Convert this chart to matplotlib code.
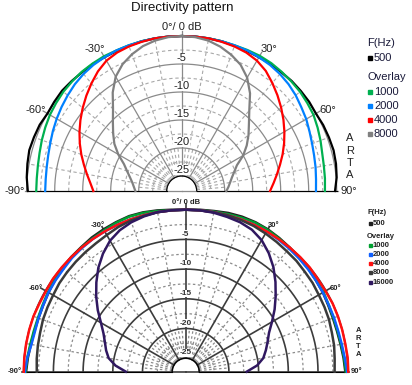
import matplotlib
matplotlib.use('Agg')
import numpy as np
import matplotlib.pyplot as plt
from matplotlib.patches import Rectangle

plt.rcParams['font.family'] = ['Liberation Sans', 'DejaVu Sans']

W, H = 412, 385

# angles of the measurement points, -90 .. 90 deg in 5 deg steps
angles = list(range(-90, 95, 5))

# upper chart (dB)
top_freqs = ['500', '1000', '2000', '4000', '8000']
top_500 = [-0.2, 0.1, 0.3, 0.5, 0.4, 0.3, 0.0, 0.1, 0.2, 0.1, 0.0, 0.0, -0.1, -0.1, -0.1, 0.0, 0.0, 0.0,
           0.0,
           0.0, 0.0, 0.0, -0.1, -0.1, -0.1, 0.0, 0.0, 0.1, 0.1, 0.1, 0.0, 0.2, 0.3, 0.4, 0.3, 0.1, -0.3]
top_1000 = [-1.7, -1.7, -1.6, -1.4, -1.1, -0.8, -0.5, -0.3, -0.1, 0.0, 0.1, 0.1, 0.1, 0.0, 0.0, 0.0, 0.0, 0.0,
            0.0,
            0.0, 0.0, 0.0, 0.0, 0.1, 0.2, 0.2, 0.1, 0.0, -0.1, -0.3, -0.5, -0.9, -1.3, -1.7, -1.9, -2.0, -2.1]
top_2000 = [-3.3, -3.3, -3.2, -3.0, -2.7, -2.3, -1.9, -1.5, -1.1, -0.7, -0.4, -0.2, -0.1, 0.0, 0.0, 0.0, 0.0, 0.0,
            0.0,
            0.0, 0.0, 0.0, 0.0, 0.0, -0.1, -0.2, -0.4, -0.7, -1.1, -1.6, -2.0, -2.5, -2.9, -3.2, -3.4, -3.6, -3.7]
top_4000 = [-11.9, -11.3, -10.5, -9.6, -8.6, -7.6, -6.6, -5.6, -4.6, -3.6, -2.6, -1.6, -0.8, -0.4, -0.2, -0.1, 0.0, 0.0,
            0.0,
            0.0, 0.0, -0.1, -0.2, -0.4, -0.8, -1.5, -2.5, -3.5, -4.5, -5.5, -6.5, -7.5, -8.5, -9.5, -10.4, -11.2, -11.9]
top_8000 = [-19.4, -19.1, -18.7, -18.1, -17.3, -16.3, -14.6, -13.0, -11.7, -10.3, -8.6, -6.2, -4.1, -2.7, -1.7, -0.9, -0.4, -0.1,
            0.0,
            -0.1, -0.4, -1.0, -1.8, -2.8, -4.3, -6.4, -8.9, -10.7, -12.1, -13.5, -15.0, -16.8, -17.7, -18.4, -18.9, -19.3, -19.7]
top_colors = ['#000000', '#00b050', '#0080ff', '#ff0000', '#808080']

# lower chart (dB)
bot_freqs = ['500', '1000', '2000', '4000', '8000', '16000']
bot_500 = [-0.4, -0.6, -0.8, -0.9, -0.9, -0.8, -0.6, -0.4, -0.2, 0.0, 0.1, 0.3, 0.4, 0.5, 0.6, 0.5, 0.3, 0.1,
           0.0,
           0.1, 0.2, 0.4, 0.5, 0.5, 0.4, 0.2, 0.0, -0.2, -0.3, -0.5, -0.6, -0.8, -0.9, -0.9, -0.8, -0.6, -0.4]
bot_1000 = [-0.3, -0.5, -0.7, -0.8, -0.8, -0.7, -0.5, -0.3, -0.2, -0.1, 0.0, 0.1, 0.2, 0.4, 0.5, 0.4, 0.2, 0.0,
            0.0,
            0.0, 0.1, 0.2, 0.3, 0.4, 0.3, 0.1, -0.1, -0.2, -0.3, -0.4, -0.5, -0.7, -0.8, -0.8, -0.7, -0.5, -0.3]
bot_2000 = [-0.2, -0.5, -0.9, -1.0, -0.9, -0.8, -0.6, -0.5, -0.4, -0.2, -0.1, 0.0, 0.0, 0.0, 0.0, 0.0, 0.0, 0.0,
            0.0,
            0.0, 0.0, 0.0, 0.0, 0.0, 0.0, -0.1, -0.2, -0.3, -0.4, -0.5, -0.6, -0.7, -0.7, -0.7, -0.6, -0.4, -0.1]
bot_4000 = [0.0, 0.0, 0.0, 0.0, 0.0, -0.1, -0.1, 0.0, 0.0, 0.0, 0.0, 0.0, 0.0, 0.0, 0.0, 0.0, 0.0, 0.0,
            0.0,
            0.0, 0.0, 0.0, 0.0, 0.0, 0.0, 0.0, 0.0, 0.0, 0.0, -0.1, -0.1, 0.0, 0.0, 0.0, 0.0, 0.1, 0.1]
bot_8000 = [-2.2, -2.1, -2.0, -1.9, -1.7, -1.6, -1.5, -1.3, -1.2, -1.1, -1.0, -0.9, -0.7, -0.4, -0.2, -0.1, 0.0, 0.0,
            0.0,
            0.0, 0.0, 0.0, -0.1, -0.2, -0.4, -0.6, -0.8, -0.9, -1.1, -1.2, -1.4, -1.5, -1.6, -1.8, -1.9, -2.1, -2.2]
bot_16000 = [-17.2, -15.4, -14.1, -13.4, -12.8, -12.0, -10.8, -9.2, -7.6, -6.0, -4.4, -3.0, -1.8, -1.0, -0.5, -0.2, 0.0, 0.0,
             0.0,
             0.0, -0.1, -0.3, -0.5, -0.9, -1.7, -2.9, -4.3, -5.9, -7.5, -9.0, -10.5, -11.8, -12.6, -13.3, -14.0, -15.2, -17.0]
bot_colors = ['#202020', '#00a030', '#1060ff', '#ff1010', '#3a3a3a', '#301860']

ring_labels = [-5, -10, -15, -20, -25]


def fx(x):
    return x / W


def fy(y):
    return 1 - y / H


def half_polar(cx, cy, R, hole, solid_c, dash_c, solid_lw, dash_lw, dash):
    # matplotlib pads the half-disc wedge to a square box, origin at 1/4 height
    ax = fig.add_axes([fx(cx - R), (H - cy - R / 2) / H, 2 * R / W, 2 * R / H], projection='polar')
    ax.set_theta_zero_location('N')
    ax.set_theta_direction(-1)
    ax.set_thetamin(-90)
    ax.set_thetamax(90)
    ax.set_rorigin(-25 - 25 * hole / (R - hole))
    ax.set_rlim(-25, 0)
    ax.grid(False)
    ax.set_xticks([])
    ax.set_yticks([])
    for s in ax.spines.values():
        s.set_visible(False)
    th = np.radians(np.linspace(-90, 90, 361))
    # dashed rings and spokes
    for v in np.arange(-22.5, 0, 5):
        ax.plot(th, np.full_like(th, v), color=dash_c, lw=dash_lw, dashes=dash, zorder=1)
    for a in range(-80, 90, 10):
        if a % 30:
            ax.plot([np.radians(a)] * 2, [-25, 0], color=dash_c, lw=dash_lw, dashes=dash, zorder=1)
    for a in range(-85, 90, 10):
        ax.plot([np.radians(a)] * 2, [-25, -20], color=dash_c, lw=dash_lw, dashes=dash, zorder=1)
    # solid rings and spokes
    for v in range(-25, 1, 5):
        ax.plot(th, np.full_like(th, v), color=solid_c, lw=solid_lw, zorder=1, clip_on=False)
    for a in (-60, -30, 0, 30, 60):
        ax.plot([np.radians(a)] * 2, [-25, 0.9], color=solid_c, lw=solid_lw, zorder=1, clip_on=False)
    for a in (-90, 90):
        ax.plot([np.radians(a)] * 2, [ax.get_rorigin(), 0.3], color=solid_c, lw=solid_lw, zorder=1, clip_on=False)
    return ax


fig = plt.figure(figsize=(W / 100, H / 100), dpi=100)

# ---------------- upper chart ----------------
ax1 = half_polar(181.7, 191, 155, 15, '#8a8a8a', '#a8a8a8', 0.9, 0.8, (3, 2.5))
th = np.radians(angles)
for vals, c in zip([top_500, top_1000, top_2000, top_4000, top_8000], top_colors):
    ax1.plot(th, vals, color=c, lw=1.6, zorder=3, clip_on=False)
for v in ring_labels:
    ax1.text(0, v + 1.1, str(v), ha='center', va='center', fontsize=8, color='#222222', zorder=4,
             bbox=dict(fc='white', ec='none', pad=0.2))
ax1.text(0, 1.6, '0°/ 0 dB', ha='center', va='center', fontsize=8, color='#222222')
for a, lab in [(-31.5, '-30°'), (31.5, '30°'), (-61, '-60°'), (61, '60°'), (-90, '-90°'), (90, '90°')]:
    ax1.text(np.radians(a), 2.1, lab, ha='center', va='center', fontsize=8, color='#222222')

fig.text(fx(182), fy(8), 'Directivity pattern', ha='center', va='center', fontsize=9.5, color='#111111')
for i, ch in enumerate('ARTA'):
    fig.text(fx(350), fy(138.3 + 12.4 * i), ch, ha='center', va='center', fontsize=8, color='#222222')
fig.text(fx(367), fy(43), 'F(Hz)', ha='left', va='center', fontsize=8, color='#1a1a3a')
fig.text(fx(367), fy(77), 'Overlay', ha='left', va='center', fontsize=8, color='#1a1a3a')
ys = [58.3, 91.7, 106, 120, 134.3]
for f, c, y in zip(top_freqs, top_colors, ys):
    fig.patches.append(Rectangle((fx(367.5), fy(y + 2)), 4 / W, 4 / H, color=c, transform=fig.transFigure))
    fig.text(fx(374), fy(y), f, ha='left', va='center', fontsize=8, color='#1a1a3a')

# ---------------- lower chart ----------------
ax2 = half_polar(185.7, 371.7, 162, 13.5, '#3c3c3c', '#8c8c8c', 1.2, 0.9, (2, 2))
for vals, c in zip([bot_500, bot_1000, bot_2000, bot_4000, bot_8000, bot_16000], bot_colors):
    ax2.plot(th, vals, color=c, lw=1.8, zorder=3, clip_on=False)
for v in ring_labels:
    ax2.text(0, v + 0.9, str(v), ha='center', va='center', fontsize=6, fontweight='bold', color='#333333',
             zorder=4, bbox=dict(fc='white', ec='none', pad=0.2))
ax2.text(0, 1.2, '0°/ 0 dB', ha='center', va='center', fontsize=5.5, fontweight='bold', color='#222222')
for a, lab in [(-31, '-30°'), (31, '30°'), (-61, '-60°'), (61, '60°'), (-90, '-90°'), (90, '90°')]:
    ax2.text(np.radians(a), 1.5, lab, ha='center', va='center', fontsize=5.5, fontweight='bold',
             color='#222222')

for i, ch in enumerate('ARTA'):
    fig.text(fx(358.3), fy(330 + 8 * i), ch, ha='center', va='center', fontsize=5.5, fontweight='bold',
             color='#222222')
fig.text(fx(367), fy(213), 'F(Hz)', ha='left', va='center', fontsize=5.5, fontweight='bold', color='#222222')
fig.text(fx(367), fy(236), 'Overlay', ha='left', va='center', fontsize=5.5, fontweight='bold', color='#222222')
ys = [223.3, 245.7, 254.3, 263.3, 272.7, 282]
for f, c, y in zip(bot_freqs, bot_colors, ys):
    fig.patches.append(Rectangle((fx(368.5), fy(y + 1.5)), 3 / W, 3 / H, color=c, transform=fig.transFigure))
    fig.text(fx(372.5), fy(y), f, ha='left', va='center', fontsize=5.5, fontweight='bold', color='#222222')

plt.savefig('out.png', dpi=100)
